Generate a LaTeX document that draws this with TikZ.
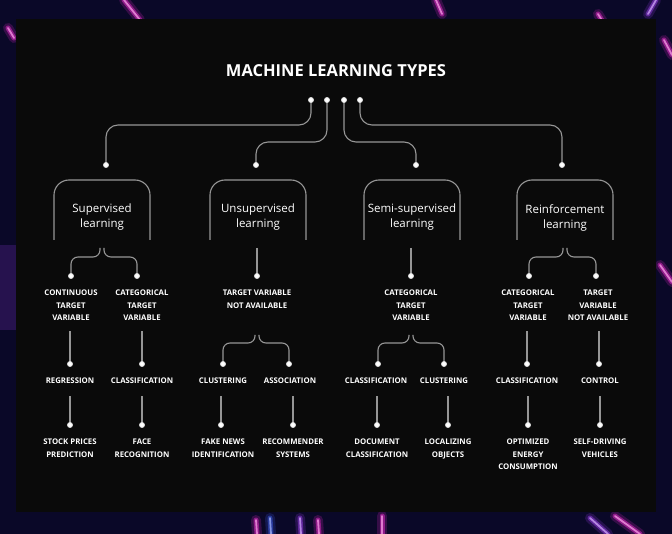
\documentclass[tikz,border=0pt]{standalone}
\usepackage{fontspec}
\setmainfont{Open Sans}
\usetikzlibrary{calc}
\definecolor{navy}{RGB}{10,8,40}
\definecolor{panel}{RGB}{10,10,10}
\definecolor{linegray}{RGB}{150,150,150}
\definecolor{pinkg}{RGB}{230,40,200}
\definecolor{purpg}{RGB}{150,60,230}
\definecolor{blueg}{RGB}{60,90,230}
\pgfdeclarelayer{back}
\pgfdeclarelayer{lines}
\pgfsetlayers{back,lines,main}
\newcommand\mlstreak[3]{%
  \draw[#1, line width=10pt, opacity=0.2, line cap=round] #2 -- #3;
  \draw[#1, line width=5pt, opacity=0.5, line cap=round] #2 -- #3;
  \draw[#1!50!white, line width=1.8pt, opacity=0.8, line cap=round] #2 -- #3;}
\begin{document}
\begin{tikzpicture}[x=1pt,y=-1pt,
  conn/.style={draw=linegray, line width=1.1pt, rounded corners=12pt},
  branch/.style={draw=linegray, line width=1.1pt, rounded corners=7pt},
  dot/.style={circle, fill=white, inner sep=0pt, minimum size=5pt, draw=white!75!gray, line width=0.8pt},
  lvlone/.style={text=white, font=\fontsize{11.5}{15}\selectfont, align=center, inner sep=0pt},
  lbl/.style={text=white, font=\bfseries\fontsize{7.8}{12.5}\selectfont, align=center, inner sep=0pt, anchor=north},
  frame/.style={draw=linegray, line width=1.1pt, rounded corners=15pt}]
\useasboundingbox (0,0) rectangle (672,534);
\begin{pgfonlayer}{back}
\fill[navy] (0,0) rectangle (672,534);
\fill[purpg, opacity=0.2] (0,245) rectangle (16,330);
\mlstreak{pinkg}{(124,0)}{(140,20)}
\mlstreak{pinkg}{(8,28)}{(14,38)}
\mlstreak{pinkg}{(436,0)}{(442,14)}
\mlstreak{pinkg}{(598,14)}{(603,22)}
\mlstreak{purpg}{(656,0)}{(648,14)}
\mlstreak{pinkg}{(664,40)}{(672,55)}
\mlstreak{pinkg}{(660,265)}{(672,282)}
\mlstreak{blueg}{(270,518)}{(271,534)}
\mlstreak{pinkg}{(256,520)}{(257,534)}
\mlstreak{purpg}{(300,518)}{(301,534)}
\mlstreak{pinkg}{(318,520)}{(319,534)}
\mlstreak{pinkg}{(382,516)}{(382,534)}
\mlstreak{purpg}{(590,518)}{(608,534)}
\mlstreak{pinkg}{(615,516)}{(640,534)}
\fill[panel] (16,19) rectangle (656,512);
\end{pgfonlayer}

% title
\node[text=white, font=\bfseries\fontsize{16.5}{18}\selectfont] (title) at (336,71) {MACHINE LEARNING TYPES};

% top dots
\node[dot] (t1) at (311,100) {};
\node[dot] (t2) at (327,100) {};
\node[dot] (t3) at (344,100) {};
\node[dot] (t4) at (360,100) {};
\node[dot] (a1) at (106,165) {};
\node[dot] (a2) at (256,165) {};
\node[dot] (a3) at (416,165) {};
\node[dot] (a4) at (562,165) {};

% level one
\node[lvlone] (sup) at (102,217.5) {Supervised\\learning};
\node[lvlone] (uns) at (258,217.5) {Unsupervised\\learning};
\node[lvlone] (semi) at (412,217.5) {Semi-supervised\\learning};
\node[lvlone] (rein) at (565,217.5) {Reinforcement\\learning};

% level two dots
\node[dot] (b1) at (71,276) {};
\node[dot] (b2) at (137,276) {};
\node[dot] (b3) at (257,276) {};
\node[dot] (b4) at (411,276) {};
\node[dot] (b5) at (529,276) {};
\node[dot] (b6) at (596,276) {};

% level two labels
\node[lbl] (l1) at (71,290) {CONTINUOUS\\TARGET\\VARIABLE};
\node[lbl] (l2) at (142,290) {CATEGORICAL\\TARGET\\VARIABLE};
\node[lbl] (l3) at (257,290) {TARGET VARIABLE\\NOT AVAILABLE};
\node[lbl] (l4) at (411,290) {CATEGORICAL\\TARGET\\VARIABLE};
\node[lbl] (l5) at (528,290) {CATEGORICAL\\TARGET\\VARIABLE};
\node[lbl] (l6) at (598,290) {TARGET\\VARIABLE\\NOT AVAILABLE};

% level three dots
\node[dot] (c1) at (70,364) {};
\node[dot] (c2) at (142,364) {};
\node[dot] (c3) at (223,364) {};
\node[dot] (c4) at (289,364) {};
\node[dot] (c5) at (378,364) {};
\node[dot] (c6) at (444,364) {};
\node[dot] (c7) at (527,364) {};
\node[dot] (c8) at (599,364) {};

% level three labels
\node[lbl] (m1) at (70,378) {REGRESSION};
\node[lbl] (m2) at (142,378) {CLASSIFICATION};
\node[lbl] (m3) at (223,378) {CLUSTERING};
\node[lbl] (m4) at (290,378) {ASSOCIATION};
\node[lbl] (m5) at (376,378) {CLASSIFICATION};
\node[lbl] (m6) at (444,378) {CLUSTERING};
\node[lbl] (m7) at (527,378) {CLASSIFICATION};
\node[lbl] (m8) at (600,378) {CONTROL};

% level four dots
\node[dot] (d1) at (70,425) {};
\node[dot] (d2) at (142,425) {};
\node[dot] (d3) at (221,425) {};
\node[dot] (d4) at (293,425) {};
\node[dot] (d5) at (377,425) {};
\node[dot] (d6) at (448,425) {};
\node[dot] (d7) at (528,425) {};
\node[dot] (d8) at (600,425) {};

% level four labels
\node[lbl] (n1) at (70,439) {STOCK PRICES\\PREDICTION};
\node[lbl] (n2) at (142,439) {FACE\\RECOGNITION};
\node[lbl] (n3) at (223,439) {FAKE NEWS\\IDENTIFICATION};
\node[lbl] (n4) at (293,439) {RECOMMENDER\\SYSTEMS};
\node[lbl] (n5) at (377,439) {DOCUMENT\\CLASSIFICATION};
\node[lbl] (n6) at (448,439) {LOCALIZING\\OBJECTS};
\node[lbl] (n7) at (528,439) {OPTIMIZED\\ENERGY\\CONSUMPTION};
\node[lbl] (n8) at (600,439) {SELF-DRIVING\\VEHICLES};

\begin{pgfonlayer}{lines}
% top connectors
\draw[conn] (t1.center) -- ++(0,25) -| (a1.center);
\draw[conn] (t2.center) -- ++(0,42) -| (a2.center);
\draw[conn] (t3.center) -- ++(0,42) -| (a3.center);
\draw[conn] (t4.center) -- ++(0,25) -| (a4.center);
% frames
\foreach \n in {sup,uns,semi,rein}{
  \draw[frame] ($(\n.center)+(-48,22.5)$) -- ($(\n.center)+(-48,-37.5)$)
     -- ($(\n.center)+(48,-37.5)$) -- ($(\n.center)+(48,22.5)$);
}
% level one to two
\draw[branch] ($(sup.center)+(-2,30.5)$) -- ++(0,9) -| (b1.center);
\draw[branch] ($(sup.center)+(2,30.5)$) -- ++(0,9) -| (b2.center);
\draw[branch] ($(uns.center)+(-1,30.5)$) -- (b3.center);
\draw[branch] ($(semi.center)+(-1,30.5)$) -- (b4.center);
\draw[branch] ($(rein.center)+(-2,30.5)$) -- ++(0,9) -| (b5.center);
\draw[branch] ($(rein.center)+(2,30.5)$) -- ++(0,9) -| (b6.center);
% level two to three
\draw[branch] (c1.center |- l1.south) ++(0,10) -- (c1.center);
\draw[branch] (c2.center |- l2.south) ++(0,10) -- (c2.center);
\draw[branch] ($(l3.south |- 0,335)+(-2,0)$) -- ++(0,8) -| (c3.center);
\draw[branch] ($(l3.south |- 0,335)+(2,0)$) -- ++(0,8) -| (c4.center);
\draw[branch] ($(l4.south |- 0,335)+(-2,0)$) -- ++(0,8) -| (c5.center);
\draw[branch] ($(l4.south |- 0,335)+(2,0)$) -- ++(0,8) -| (c6.center);
\draw[branch] (c7.center |- l5.south) ++(0,10) -- (c7.center);
\draw[branch] (c8.center |- l6.south) ++(0,10) -- (c8.center);
% level three to four
\foreach \i in {1,...,8}{
  \draw[branch] (d\i.center |- m\i.south) ++(0,12) -- (d\i.center);
}
\end{pgfonlayer}
\end{tikzpicture}
\end{document}
